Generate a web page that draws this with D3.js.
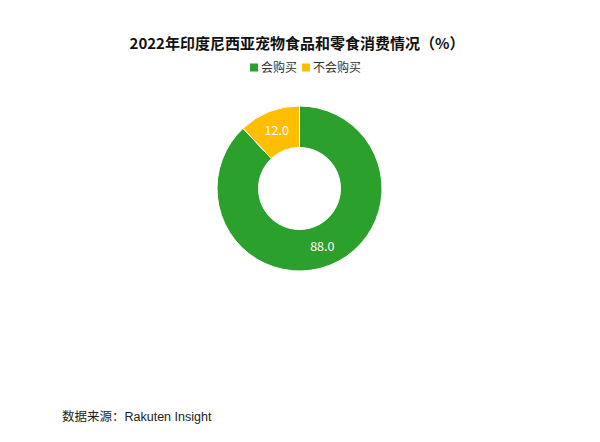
<!DOCTYPE html>
<html>
<head>
<meta charset="utf-8">
<script src="https://cdn.jsdelivr.net/npm/d3@7"></script>
<style>
  body { margin: 0; background: #fff; }
  text { font-family: "Noto Sans CJK SC", "Noto Sans", sans-serif; }
</style>
</head>
<body>
<div id="chart"></div>
<script>
// data
var categories = ['会购买', '不会购买'];
var values = [88.0, 12.0];
var colors = ['#2ca02c', '#ffbf00'];

var svgWidth = 600,
  svgHeight = 442;

var cx = 299.5, cy = 188.5,
  outerR = 82.5, innerR = 41;

var svg = d3.select('#chart')
  .append('svg')
  .attr('width', svgWidth)
  .attr('height', svgHeight);

// title
svg.append('text')
  .attr('x', 297)
  .attr('y', 48.5)
  .attr('text-anchor', 'middle')
  .style('font-size', '15px')
  .style('font-weight', 'bold')
  .attr('fill', '#111')
  .text('2022年印度尼西亚宠物食品和零食消费情况（%）');

// legend
var legendX = [250, 302];
var legend = svg.append('g');
categories.forEach((c, i) => {
  var g = legend.append('g').attr('transform', `translate(${legendX[i]},68)`);
  g.append('rect')
    .attr('x', 0).attr('y', -4.5)
    .attr('width', 8).attr('height', 8)
    .attr('fill', colors[i]);
  g.append('text')
    .attr('x', 11).attr('y', 4)
    .style('font-size', '12px')
    .attr('fill', '#333')
    .text(c);
});

// donut
var pie = d3.pie().sort(null).value(d => d);
var arc = d3.arc().innerRadius(innerR).outerRadius(outerR);
var labelArc = d3.arc().innerRadius(62).outerRadius(62);

var chartGroup = svg.append('g')
  .attr('transform', `translate(${cx},${cy})`);

chartGroup.selectAll('path')
  .data(pie(values))
  .enter()
  .append('path')
  .attr('d', arc)
  .attr('fill', (d, i) => colors[i])
  .attr('stroke', '#fff')
  .attr('stroke-width', 1);

chartGroup.selectAll('text.lbl')
  .data(pie(values))
  .enter()
  .append('text')
  .attr('class', 'lbl')
  .attr('transform', d => `translate(${labelArc.centroid(d)})`)
  .attr('text-anchor', 'middle')
  .attr('dy', '0.35em')
  .style('font-size', '12.5px')
  .attr('fill', '#fff')
  .text(d => d.data.toFixed(1));

// source
svg.append('text')
  .attr('x', 62)
  .attr('y', 421)
  .style('font-size', '12.5px')
  .style('font-family', '"Liberation Sans", "Noto Sans CJK SC", sans-serif')
  .attr('fill', '#222')
  .text('数据来源：Rakuten Insight');
</script>
</body>
</html>
